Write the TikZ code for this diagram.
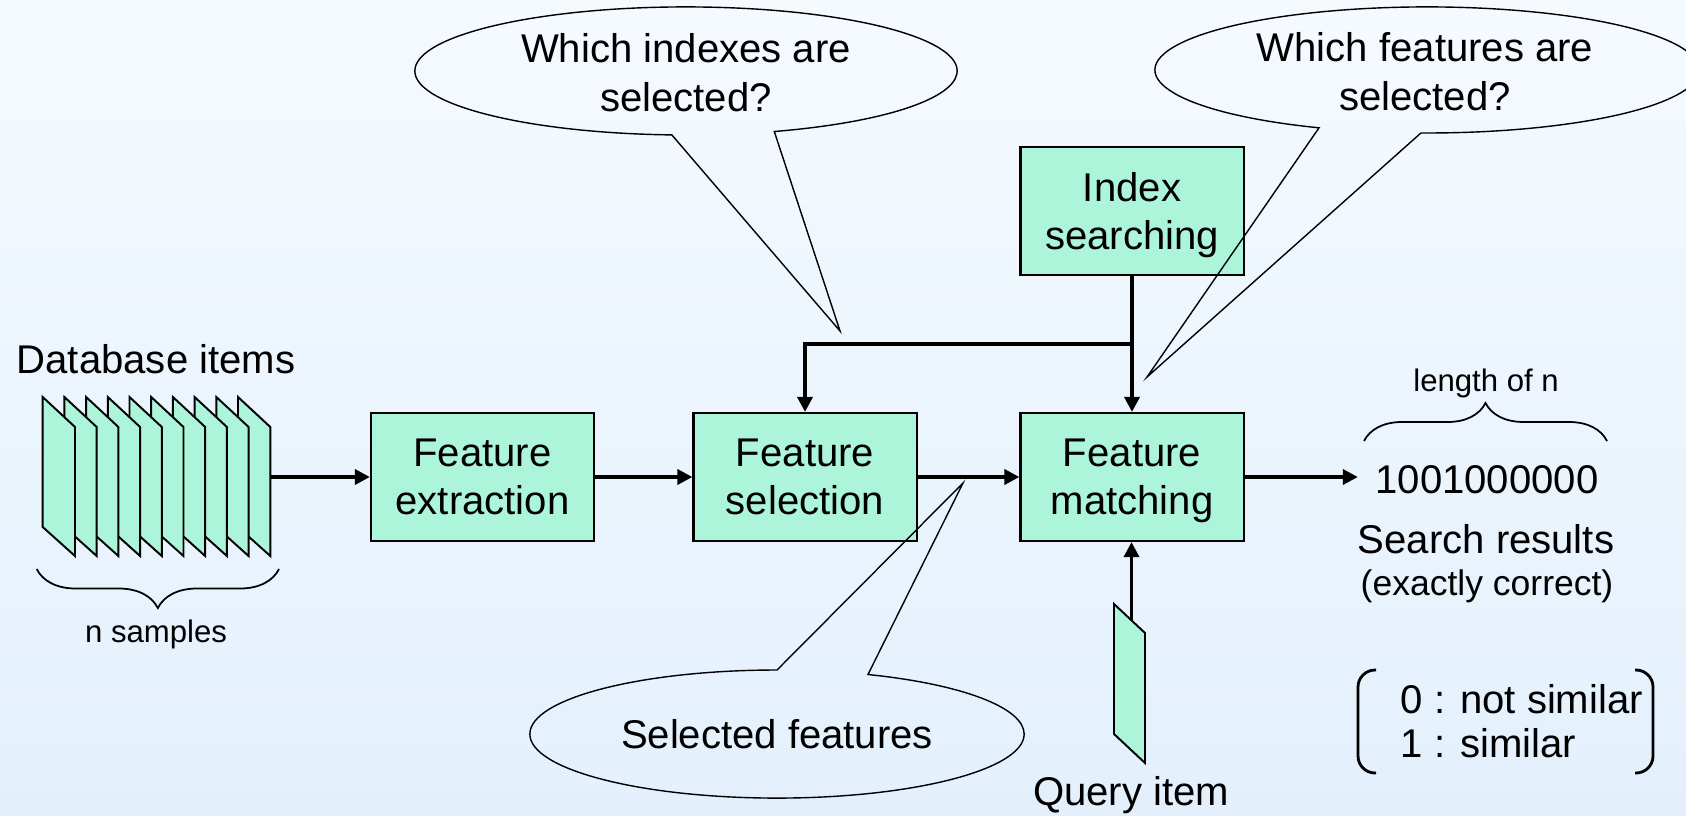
\documentclass[tikz,border=0pt]{standalone}
\usepackage{fontspec}
\setmainfont{Liberation Sans}
\usetikzlibrary{arrows.meta,decorations.pathreplacing}
\definecolor{mint}{RGB}{172,245,218}
\definecolor{bgtop}{RGB}{245,250,255}
\definecolor{bgbot}{RGB}{227,240,252}
\newcommand\fbig{\fontsize{11.4}{13.75}\selectfont}
\newcommand\fdb{\fontsize{11.4}{13.75}\selectfont}
\newcommand\fmid{\fontsize{10.1}{12}\selectfont}
\newcommand\fsmall{\fontsize{8.85}{10.6}\selectfont}
\begin{document}
\begin{tikzpicture}[x=0.01cm, y=-0.01cm,
  proc/.style={draw, line width=0.6pt, fill=mint, minimum width=2.23cm, minimum height=1.28cm, inner sep=0pt, align=center, font=\fbig},
  conn/.style={line width=1pt, -{Triangle[length=0.15cm,width=0.15cm]}},
  callout/.style={line width=0.4pt},
  sheet/.style={draw, fill=mint, line width=0.55pt},
  bracestyle/.style={decorate, line width=0.5pt},
  pair/.style={line width=0.8pt, rounded corners=0.17cm},
  lbl/.style={inner sep=0pt, anchor=base}]
\shade[top color=bgtop, bottom color=bgbot] (0,0) rectangle (1686,815);
\useasboundingbox (0,0) rectangle (1686,815);
\clip (0,0) rectangle (1686,815);

% database stack
\foreach \i in {9,8,...,0}{
  \pgfmathsetmacro\xl{42.7+21.7*\i}
  \draw[sheet] (\xl,397) -- ++(32.3,30) -- ++(0,129) -- ++(-32.3,-29) -- cycle;
}
\coordinate (stackout) at (270,477);

% query item
\draw[sheet] (1114,604) -- (1145,633) -- (1145,763) -- (1114,734) -- cycle;
\coordinate (qtop) at (1131.5,620);

% process boxes
\node[proc] (fe) at (482.5,477) {Feature\\\smash{extraction}};
\node[proc] (fs) at (805,477) {Feature\\\smash{selection}};
\node[proc] (fm) at (1132,477) {Feature\\\smash{matching}};
\node[proc] (is) at (1132,211) {Index\\\smash{searching}};

% labels
\node[lbl, font=\fdb] (dbl) at (156,373) {Database items};
\node[lbl, font=\fsmall] (nsl) at (156,642) {n samples};
\node[lbl, font=\fsmall] (lenl) at (1486,391) {length of n};
\node[lbl, font=\fbig] (res) at (1487,493) {1001000000};
\node[lbl, font=\fbig] (srl) at (1486,553) {Search results};
\node[lbl, font=\fmid] (ecl) at (1487,595) {(exactly correct)};
\node[lbl, anchor=base west, font=\fbig] (l0) at (1400,713) {0 : not similar};
\node[lbl, anchor=base west, font=\fbig] (l1) at (1400,757) {1 : similar};
\node[lbl, font=\fbig] (qil) at (1131,805) {Query item};

% braces
\draw[bracestyle, decoration={brace,mirror,amplitude=0.39cm}] (36.7,569) -- (279,569);
\draw[bracestyle, decoration={brace,amplitude=0.38cm}] (1364,441) -- (1607,441);
\draw[pair] (1376,670) -- (1358,670) -- (1358,773) -- (1376,773);
\draw[pair] (1635,670) -- (1653,670) -- (1653,773) -- (1635,773);

% connectors
\draw[conn] (stackout) -- (fe.west |- stackout);
\draw[conn] (fe) -- (fs);
\draw[conn] (fs) -- (fm);
\draw[conn, shorten >=0.17cm] (fm.east) -- (fm.east -| res.west);
\draw[conn] (is) -- (fm);
\path (is.south) ++(0,68) coordinate (j);
\draw[conn] (j) -| (fs.north);
\draw[conn] (qtop) -- (qtop |- fm.south);

% callouts
\draw[callout] (840,331) -- (671.8,134.9) arc[start angle=267, end angle=-71, x radius=2.71cm, y radius=0.64cm] -- cycle;
\node[font=\fbig, align=center, inner sep=0pt] (c1) at (686,72.5) {Which indexes are\\\smash{selected?}};
\draw[callout] (1147,377) -- (1319,127.8) arc[start angle=246.6, end angle=-91.3, x radius=2.72cm, y radius=0.63cm] -- cycle;
\node[font=\fbig, align=center, inner sep=0pt] (c2) at (1425,71.5) {Which features are\\\smash{selected?}};
\draw[callout] (963,483) -- (777,670) arc[start angle=90, end angle=428.4, x radius=2.47cm, y radius=0.64cm] -- cycle;
\node[lbl, font=\fdb] (c3) at (777,748) {Selected features};
\end{tikzpicture}
\end{document}
